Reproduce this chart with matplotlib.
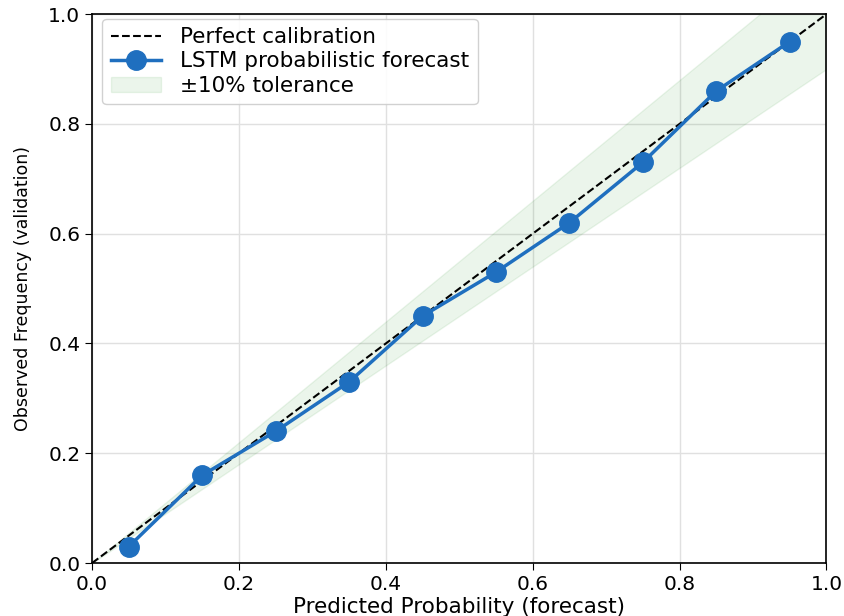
import numpy as np
import matplotlib
matplotlib.use('Agg')
import matplotlib.pyplot as plt

# calibration bins (predicted) and observed frequencies
predicted = [0.05, 0.15, 0.25, 0.35, 0.45, 0.55, 0.65, 0.75, 0.85, 0.95]
observed = [0.03, 0.16, 0.24, 0.33, 0.45, 0.53, 0.62, 0.73, 0.86, 0.95]
diag = [0.0, 1.0]
tolerance = 0.10

fig = plt.figure(figsize=(8.45, 6.16), dpi=100)
ax = fig.add_axes([0.109, 0.086, 0.869, 0.891])

ax.plot(diag, diag, 'k--', lw=1.5, label='Perfect calibration', zorder=3)
ax.plot(predicted, observed, '-o', color='#1f6fbf', lw=2.5, markersize=14,
        label='LSTM probabilistic forecast', zorder=4)

xs = np.array(diag)
ax.fill_between(xs, xs * (1 - tolerance), xs * (1 + tolerance),
                color='green', alpha=0.08, label='±10% tolerance', zorder=1)

ax.set_xlim(0, 1)
ax.set_ylim(0, 1)
ax.grid(True, color='#e0e0e0', lw=1)
ax.set_axisbelow(True)
ax.tick_params(labelsize=14.5, length=5)
ax.set_xlabel('Predicted Probability (forecast)', fontsize=15.5, labelpad=2)
ax.set_ylabel('Observed Frequency (validation)', fontsize=12.5, labelpad=12)
for s in ax.spines.values():
    s.set_linewidth(1.2)

ax.legend(loc='upper left', bbox_to_anchor=(0.014, 0.992), borderaxespad=0,
          fontsize=15.5, framealpha=0.9, labelspacing=0.2, handlelength=2.3,
          borderpad=0.4, handletextpad=0.9)

fig.savefig('out.png', dpi=100)
